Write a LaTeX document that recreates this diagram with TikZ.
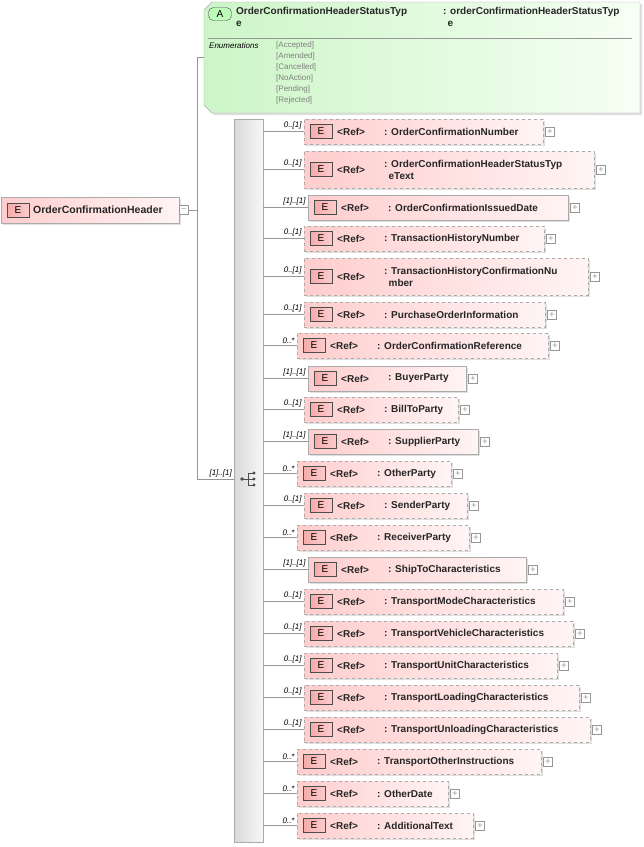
\documentclass[tikz,border=0pt]{standalone}
\usepackage{fontspec}
\setmainfont{Liberation Sans}
\usetikzlibrary{shadows}
\definecolor{elL}{RGB}{255,205,205}
\definecolor{elR}{RGB}{255,244,244}
\definecolor{bdg}{RGB}{247,170,170}
\definecolor{grL}{RGB}{205,245,200}
\definecolor{grR}{RGB}{246,255,244}
\definecolor{ln}{RGB}{150,150,150}
\tikzset{
 elbox/.style={draw=ln!80,left color=elL,right color=elR,inner sep=0pt,drop shadow={opacity=0.25,shadow xshift=2pt,shadow yshift=-2pt}},
 badge/.style={draw=black!70,left color=bdg,right color=bdg!60,minimum width=22pt,minimum height=14pt,inner sep=0pt,font=\fontsize{10}{10}\selectfont},
 txt/.style={inner sep=0pt,font=\bfseries\fontsize{10}{12}\selectfont,align=left,text=black!85},
 mult/.style={inner sep=0pt,font=\itshape\fontsize{8}{8}\selectfont,anchor=south east},
 plusbox/.style={draw=ln,fill=white,minimum size=9pt,inner sep=0pt,font=\fontsize{9}{9}\selectfont,text=ln},
 conn/.style={draw=ln,line width=0.6pt},
}
\newcommand\EL[8]{%
 \node[elbox,#6,minimum width={(#4-#2)*1pt},minimum height={(#5-#3)*1pt}] (#1) at ({(#2+#4)/2},{(#3+#5)/2}) {};
 \node[badge] (#1b) at ({#2+17},{(#3+#5)/2}) {E};
 \node[txt,anchor=west] (#1r) at ({#2+33},{(#3+#5)/2}) {<Ref>};
 \node[txt,anchor=west] (#1n) at ({#2+80},{(#3+#5)/2}) {#8};
 \node[plusbox] (#1p) at ({#4+7},{(#3+#5)/2}) {+};
 \draw[conn] (bar.east |- #1.west) -- (#1.west);
 \node[mult] (#1m) at ([xshift=-2pt,yshift=2pt]#1.west) {#7};
}
\begin{document}
\begin{tikzpicture}[x=1pt,y=-1pt]
\useasboundingbox[fill=white] (0,0) rectangle (644,847);
% attribute box
\path[draw=ln!80,left color=grL,right color=grR,drop shadow={opacity=0.25,shadow xshift=2pt,shadow yshift=-2pt}]
 (212,2) -- (640,2) -- (640,113) -- (212,113) -- (204,105) -- (204,10) -- cycle;
\node[draw=black!70,fill=grL!60!green!50,rounded corners=5pt,minimum width=23pt,minimum height=13pt,inner sep=0pt,font=\fontsize{10}{10}\selectfont] (attA) at (220,14) {A};
\node[txt,anchor=north west] (attN) at (236,7) {OrderConfirmationHeaderStatusTyp\\e};
\node[txt,anchor=north west] (attT) at (443,7) {: orderConfirmationHeaderStatusTyp\\{\ \,e}};
\draw[ln] (208,38) -- (632,38);
\node[inner sep=0pt,anchor=north west,font=\itshape\fontsize{8}{8}\selectfont] (enl) at (209,42) {Enumerations};
\node[inner sep=0pt,anchor=north west,font=\fontsize{8}{11}\selectfont,text=black!50,align=left] (env) at (276,41) {{[Accepted]}\\{[Amended]}\\{[Cancelled]}\\{[NoAction]}\\{[Pending]}\\{[Rejected]}};
% main element
\node[elbox,minimum width=178pt,minimum height=26pt] (main) at (90,210) {};
\node[badge] (mainb) at (18,210) {E};
\node[txt,anchor=west,font=\bfseries\fontsize{10.5}{12}\selectfont] (mainn) at (33,210) {OrderConfirmationHeader};
\node[plusbox] (mainm) at (184,210) {--};
% sequence bar
\node[draw=ln!80,left color=black!15,right color=black!3,minimum width=29pt,minimum height=723pt,inner sep=0pt] (bar) at (248.5,480.5) {};
\coordinate (jn) at (197,210);
\draw[conn] (mainm.east) -- (jn);
\draw[conn] (197,57) -- (197,479);
\draw[conn] (197,57) -- (204,57);
\draw[conn] (197,479) -- (bar.west |- 0,479);
\node[mult] (seqm) at (232,477) {[1]..[1]};
% sequence icon
\fill[black!70] (242,479) circle (1.8pt);
\draw[black!70,line width=0.9pt] (242,479) -- (248,479) (248,473) -- (248,485) (248,473) -- (254,473) (248,479) -- (254,479) (248,485) -- (254,485);
\fill[black!70] (254,473) circle (1.6pt) (254,479) circle (1.6pt) (254,485) circle (1.6pt);
% children
\EL{e1}{304}{119}{543}{144}{dashed}{0..[1]}{: OrderConfirmationNumber}
\EL{e2}{304}{151}{594}{188}{dashed}{0..[1]}{: OrderConfirmationHeaderStatusTyp\\{\ \,eText}}
\EL{e3}{308}{195}{568}{220}{solid}{[1]..[1]}{: OrderConfirmationIssuedDate}
\EL{e4}{304}{226}{544}{251}{dashed}{0..[1]}{: TransactionHistoryNumber}
\EL{e5}{304}{258}{588}{295}{dashed}{0..[1]}{: TransactionHistoryConfirmationNu\\{\ \,mber}}
\EL{e6}{304}{302}{545}{327}{dashed}{0..[1]}{: PurchaseOrderInformation}
\EL{e7}{297}{333}{548}{358}{dashed}{0..*}{: OrderConfirmationReference}
\EL{e8}{308}{366}{466}{391}{solid}{[1]..[1]}{: BuyerParty}
\EL{e9}{304}{397}{458}{422}{dashed}{0..[1]}{: BillToParty}
\EL{e10}{308}{429}{478}{454}{solid}{[1]..[1]}{: SupplierParty}
\EL{e11}{297}{461}{451}{486}{dashed}{0..*}{: OtherParty}
\EL{e12}{304}{493}{467}{518}{dashed}{0..[1]}{: SenderParty}
\EL{e13}{297}{525}{469}{550}{dashed}{0..*}{: ReceiverParty}
\EL{e14}{308}{557}{526}{582}{solid}{[1]..[1]}{: ShipToCharacteristics}
\EL{e15}{304}{589}{563}{614}{dashed}{0..[1]}{: TransportModeCharacteristics}
\EL{e16}{304}{621}{573}{646}{dashed}{0..[1]}{: TransportVehicleCharacteristics}
\EL{e17}{304}{653}{557}{678}{dashed}{0..[1]}{: TransportUnitCharacteristics}
\EL{e18}{304}{685}{579}{710}{dashed}{0..[1]}{: TransportLoadingCharacteristics}
\EL{e19}{304}{717}{590}{742}{dashed}{0..[1]}{: TransportUnloadingCharacteristics}
\EL{e20}{297}{749}{541}{774}{dashed}{0..*}{: TransportOtherInstructions}
\EL{e21}{297}{781}{448}{806}{dashed}{0..*}{: OtherDate}
\EL{e22}{297}{813}{473}{838}{dashed}{0..*}{: AdditionalText}
\end{tikzpicture}
\end{document}
